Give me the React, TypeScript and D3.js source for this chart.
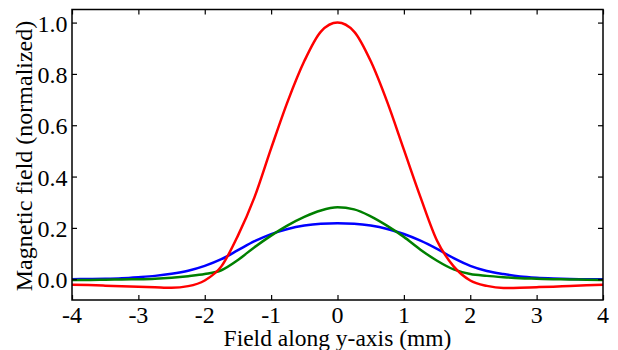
import { useEffect, useRef } from "react";
import * as d3 from "d3";

// positions along y (mm), 0.25 mm steps
const positions = [
  -4, -3.75, -3.5, -3.25, -3, -2.75, -2.5, -2.25, -2, -1.75, -1.5, -1.25, -1,
  -0.75, -0.5, -0.25, 0, 0.25, 0.5, 0.75, 1, 1.25, 1.5, 1.75, 2, 2.25, 2.5,
  2.75, 3, 3.25, 3.5, 3.75, 4,
];

const redField = [
  -0.022, -0.023, -0.025, -0.027, -0.029, -0.031, -0.033, -0.027, -0.005, 0.05,
  0.17, 0.32, 0.51, 0.693, 0.85, 0.965, 1.0, 0.965, 0.85, 0.69, 0.505, 0.32,
  0.15, 0.05, -0.005, -0.026, -0.034, -0.033, -0.031, -0.029, -0.026, -0.024,
  -0.022,
];

const blueField = [
  0.0, 0.001, 0.002, 0.004, 0.008, 0.013, 0.021, 0.033, 0.052, 0.078, 0.113,
  0.148, 0.176, 0.196, 0.209, 0.216, 0.218, 0.216, 0.209, 0.196, 0.176, 0.15,
  0.118, 0.082, 0.052, 0.032, 0.02, 0.011, 0.006, 0.003, 0.001, 0.0, 0.0,
];

const greenField = [
  -0.003, -0.003, -0.002, -0.001, 0.0, 0.002, 0.006, 0.012, 0.02, 0.035, 0.075,
  0.125, 0.17, 0.21, 0.243, 0.268, 0.28, 0.272, 0.245, 0.208, 0.165, 0.115,
  0.072, 0.038, 0.02, 0.013, 0.008, 0.004, 0.002, 0.0, -0.001, -0.002, -0.003,
];

const xTicks = [-4, -3, -2, -1, 0, 1, 2, 3, 4];
const xTickLabels = ["-4", "-3", "-2", "-1", "0", "1", "2", "3", "4"];
const yTicks = [0, 0.2, 0.4, 0.6, 0.8, 1.0];
const yTickLabels = ["0.0", "0.2", "0.4", "0.6", "0.8", "1.0"];

const series = [
  { name: "blue", color: "#0000ff", values: blueField },
  { name: "green", color: "#008000", values: greenField },
  { name: "red", color: "#ff0000", values: redField },
];

const FONT = "Liberation Serif";

export default function App() {
  const svgRef = useRef<SVGSVGElement>(null);

  useEffect(() => {
    if (!svgRef.current) return;
    const svg = d3.select(svgRef.current);
    svg.selectAll("*").remove();

    const W = 618;
    const H = 350;
    const margin = { top: 9.5, right: 15, bottom: 50, left: 72 };
    const width = W - margin.left - margin.right;
    const height = H - margin.top - margin.bottom;

    svg.attr("width", W).attr("height", H);

    const g = svg
      .append("g")
      .attr("transform", `translate(${margin.left},${margin.top})`);

    const x = d3.scaleLinear().domain([-4, 4]).range([0, width]);
    const y = d3.scaleLinear().domain([-0.081, 1.051]).range([height, 0]);

    // clip the curves to the frame
    svg
      .append("defs")
      .append("clipPath")
      .attr("id", "plot-clip")
      .append("rect")
      .attr("width", width)
      .attr("height", height);

    const line = d3
      .line<number>()
      .x((_, i) => x(positions[i]))
      .y((d) => y(d))
      .curve(d3.curveMonotoneX);

    const curves = g.append("g").attr("clip-path", "url(#plot-clip)");
    series.forEach((s) => {
      curves
        .append("path")
        .datum(s.values)
        .attr("fill", "none")
        .attr("stroke", s.color)
        .attr("stroke-width", 2.5)
        .attr("stroke-linejoin", "round")
        .attr("d", line);
    });

    // inward ticks on all four sides (lines only, labels drawn below)
    const tickLen = 5;
    const styleAxis = (sel: any) => {
      sel.select(".domain").remove();
      sel.selectAll(".tick line").attr("stroke", "#000").attr("stroke-width", 1.2);
      sel.selectAll(".tick text").remove();
    };

    g.append("g")
      .attr("transform", `translate(0,${height})`)
      .call(d3.axisBottom(x).tickValues(xTicks).tickSize(-tickLen))
      .call(styleAxis);
    g.append("g")
      .call(d3.axisTop(x).tickValues(xTicks).tickSize(-tickLen))
      .call(styleAxis);
    g.append("g")
      .call(d3.axisLeft(y).tickValues(yTicks).tickSize(-tickLen))
      .call(styleAxis);
    g.append("g")
      .attr("transform", `translate(${width},0)`)
      .call(d3.axisRight(y).tickValues(yTicks).tickSize(-tickLen))
      .call(styleAxis);

    // tick labels
    g.append("g")
      .selectAll("text")
      .data(xTicks)
      .join("text")
      .attr("x", (d) => x(d))
      .attr("y", height + 22.5)
      .attr("text-anchor", "middle")
      .style("font-family", FONT)
      .style("font-size", "24px")
      .attr("fill", "#000")
      .text((_, i) => xTickLabels[i]);

    g.append("g")
      .selectAll("text")
      .data(yTicks)
      .join("text")
      .attr("x", -4.5)
      .attr("y", (d) => y(d) + 9)
      .attr("text-anchor", "end")
      .style("font-family", FONT)
      .style("font-size", "24px")
      .attr("fill", "#000")
      .text((_, i) => yTickLabels[i]);

    // frame
    g.append("rect")
      .attr("width", width)
      .attr("height", height)
      .attr("fill", "none")
      .attr("stroke", "#000")
      .attr("stroke-width", 1.5);

    // axis titles
    svg
      .append("text")
      .attr("x", margin.left + width / 2)
      .attr("y", 345.5)
      .attr("text-anchor", "middle")
      .style("font-family", FONT)
      .style("font-size", "23.5px")
      .text("Field along y-axis (mm)");

    svg
      .append("text")
      .attr("transform", `translate(31.5,156) rotate(-90)`)
      .attr("text-anchor", "middle")
      .style("font-family", FONT)
      .style("font-size", "24px")
      .text("Magnetic field (normalized)");
  }, []);

  return (
    <svg
      ref={svgRef}
      style={{ position: "absolute", left: 0, top: 0, display: "block", background: "#fff" }}
    />
  );
}
